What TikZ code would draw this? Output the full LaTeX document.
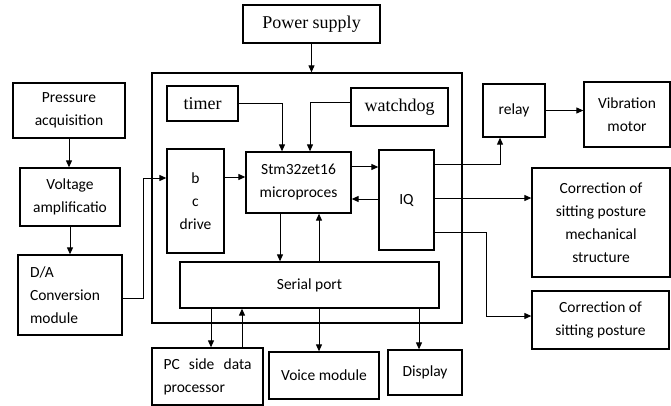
\documentclass[tikz,border=0pt]{standalone}
\usepackage{fontspec}
\setmainfont{Carlito}
\newfontfamily\serf{Liberation Serif}
\usetikzlibrary{arrows.meta}

\begin{document}
\begin{tikzpicture}[x=1pt, y=-1pt, line width=1pt, >={Triangle[length=7pt,width=6pt]}]

  \tikzstyle{block} = [rectangle, draw, line width=1.3pt, align=center, inner sep=0pt, font=\fontsize{15.5}{23}\selectfont];
  \tikzstyle{tnr} = [font=\serf\fontsize{18}{22}\selectfont];
  \useasboundingbox (0,0) rectangle (671,406);

  % outer controller frame
  \node[block, minimum width=310pt, minimum height=250pt] (main) at (307,198) {};
  \node[block, tnr, minimum width=137pt, minimum height=38pt] (power) at (311.5,24) {Power supply};

  \node[block, minimum width=112pt, minimum height=55pt] (press) at (69,110.5) {Pressure\\acquisition};
  \node[block, minimum width=100pt, minimum height=58pt] (volt) at (70,197) {Voltage\\amplificatio};
  \node[block, align=left, text width=80pt, minimum width=104pt, minimum height=80pt] (da) at (70,295) {D/A\\Conversion\\module};

  \node[block, tnr, minimum width=71pt, minimum height=35pt] (timer) at (202.5,103.5) {timer};
  \node[block, tnr, minimum width=97pt, minimum height=38pt] (watchdog) at (399.5,107) {watchdog};
  \node[block, minimum width=57pt, minimum height=104pt] (drive) at (195.5,201) {b\\c\\drive};
  \node[block, minimum width=105pt, minimum height=61pt] (stm) at (298.5,182.5) {Stm32zet16\\microproces};
  \node[block, minimum width=55pt, minimum height=100pt] (iq) at (406.5,200) {IQ};
  \node[block, minimum width=259pt, minimum height=46pt] (serial) at (309.5,285) {Serial port};

  \node[block, minimum width=62pt, minimum height=53pt] (relay) at (514,110.5) {relay};
  \node[block, minimum width=86pt, minimum height=65pt] (motor) at (627,114.5) {Vibration\\motor};
  \node[block, minimum width=138pt, minimum height=109pt] (mech) at (601,222.5) {Correction of\\sitting posture\\mechanical\\structure};
  \node[block, minimum width=137pt, minimum height=58pt] (posture) at (600.5,320) {Correction of\\sitting posture};

  \node[block, align=justify, text width=88pt, minimum width=111pt, minimum height=57pt] (pc) at (207.5,376.5) {PC side data processor};
  \node[block, minimum width=110pt, minimum height=47pt] (voice) at (324,375.5) {Voice module};
  \node[block, minimum width=74pt, minimum height=45pt] (display) at (425,372.5) {Display};

  % connectors
  \draw[->] (power.south) -- (power.south |- main.north);
  \draw[->] (press.south) -- (press.south |- volt.north);
  \draw[->] (volt.south) -- (volt.south |- da.north);
  \draw[->] (da.east |- 0,298) -| (143,178) -- (drive.west |- 0,178);
  \draw[->] (drive.east |- 0,177) -- (stm.west |- 0,177);
  \draw[->] (timer.east) -| (stm.north -| 282,0);
  \draw[->] (watchdog.west |- 0,103) -| (stm.north -| 310,0);
  \draw[->] (stm.east |- 0,167) -- (iq.west |- 0,167);
  \draw[->] (iq.west |- 0,199) -- (stm.east |- 0,199);
  \draw[->] (stm.south -| 280,0) -- (serial.north -| 280,0);
  \draw[->] (serial.north -| 319,0) -- (stm.south -| 319,0);

  \draw[->] (iq.east |- 0,165) -| (relay.south -| 500,0);
  \draw[->] (relay.east) -- (relay.east -| motor.west);
  \draw[->] (iq.east |- 0,198) -- (mech.west |- 0,198);
  \draw[->] (iq.east |- 0,232) -| (486,316) -- (posture.west |- 0,316);

  \foreach \x/\target in {211/pc, 319/voice, 419/display}
    \draw[->] (serial.south -| \x,0) -- (\target.north -| \x,0);
  \draw[->] (pc.north -| 242,0) -- (serial.south -| 242,0);

\end{tikzpicture}
\end{document}
